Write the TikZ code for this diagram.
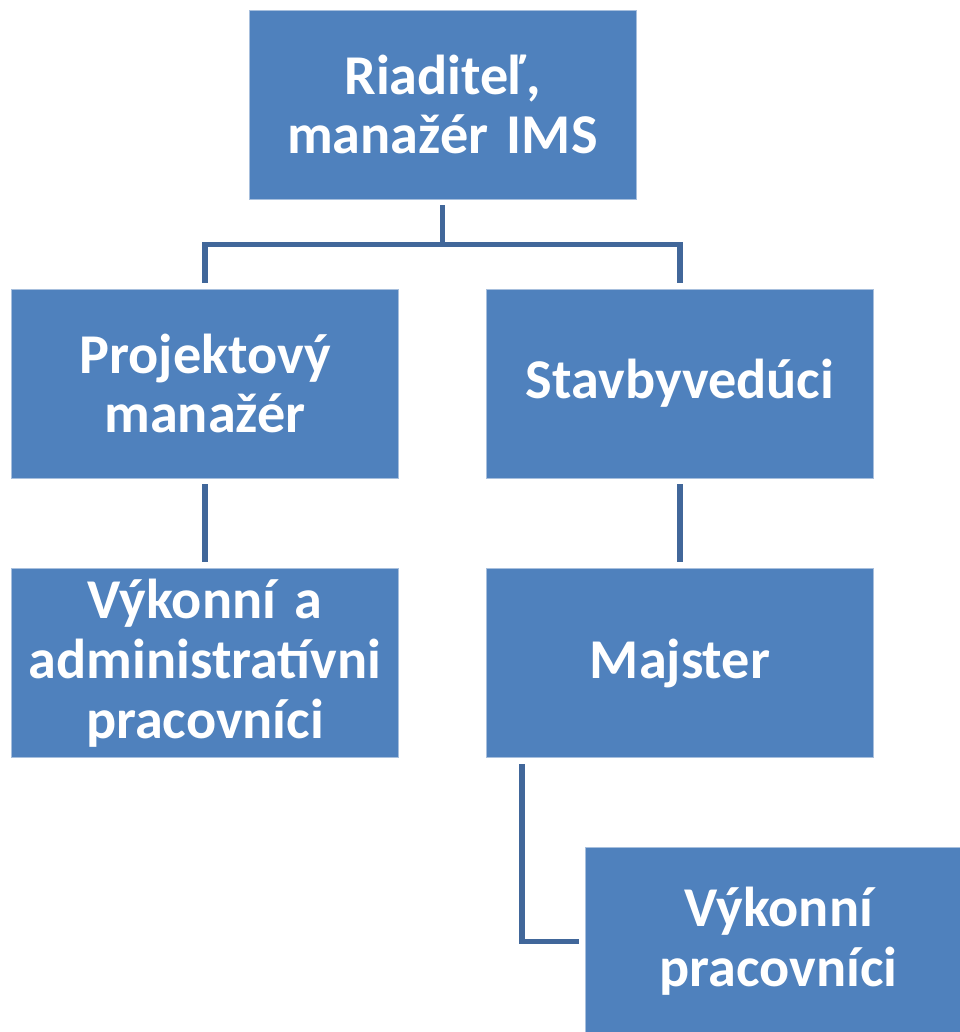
\documentclass[tikz,border=0pt]{standalone}
\usepackage{fontspec}
\setmainfont[WordSpace=0.8]{Carlito}
\usetikzlibrary{positioning}

\definecolor{boxblue}{HTML}{4F81BD}
\definecolor{boxedge}{HTML}{A7BFDD}
\definecolor{linkblue}{HTML}{41679A}

\begin{document}
\begin{tikzpicture}[
    x=0.02cm, y=-0.02cm,
    node distance=1.8cm and 1.76cm,
    post/.style={rectangle, fill=boxblue, draw=boxedge, line width=0.5pt,
                 minimum width=7.74cm, minimum height=3.78cm,
                 text width=7.5cm, align=center, text=white,
                 font=\fontsize{32}{34}\selectfont\bfseries},
    link/.style={draw=linkblue, line width=3.2pt,
                 shorten <=0.12cm, shorten >=0.12cm}
]
  \useasboundingbox (0,0) rectangle (960,1032);
  \clip (0,0) rectangle (960,1032);

  % Top level
  \node[post] (ceo) at (442.5,104.5) {Riaditeľ,\\manažér IMS};

  % Second level
  \node[post] (pm) at (205,383.5) {Projektový\\manažér};
  \node[post] (sv) at (680,383.5) {Stavbyvedúci};

  % Third level
  \node[post, below=of pm] (vap) {Výkonní a\\administratívni\\pracovníci};
  \node[post, below=of sv] (maj) {Majster};

  % Fourth level (shifted right)
  \node[post] (vp) at (778.5,941.5) {Výkonní\\pracovníci};

  % Connecting lines
  \draw[link] (ceo.south) -- ++(0,45) -| (pm.north);
  \draw[link] (ceo.south) -- ++(0,45) -| (sv.north);
  \draw[link] (pm) -- (vap);
  \draw[link] (sv) -- (maj);
  \draw[link] ([xshift=0.72cm]maj.south west) |- (vp.west);

\end{tikzpicture}
\end{document}
